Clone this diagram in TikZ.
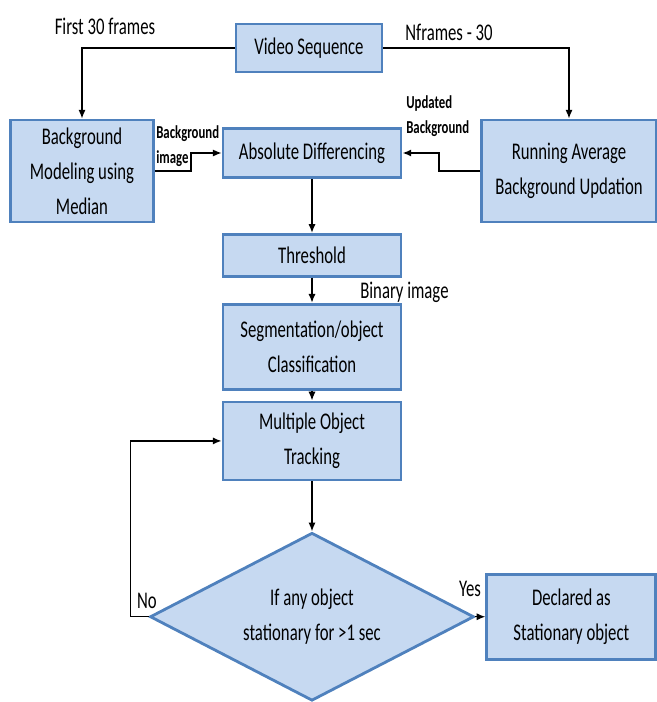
\documentclass[tikz,border=0pt]{standalone}
\usepackage{fontspec}
\setmainfont[FakeStretch=0.7]{Carlito}
\usetikzlibrary{arrows.meta,positioning,shapes.geometric}
\definecolor{boxfill}{RGB}{198,217,241}
\definecolor{boxline}{RGB}{79,129,189}

\begin{document}
\begin{tikzpicture}[
node distance = 6mm and 6mm,
box/.style = {draw=boxline, line width=2pt, fill=boxfill,
              align=center, inner sep=1pt,
              font=\fontsize{17}{25}\selectfont},
decide/.style = {box, diamond, aspect=2, inner sep=0pt,
              minimum width=8.1cm, minimum height=4.2cm},
lbl/.style = {font=\fontsize{17}{25}\selectfont, inner sep=0pt},
tag/.style = {font=\fontsize{13}{18}\selectfont\bfseries,
              align=left, inner sep=0pt, anchor=west},
arr/.style = {-{Latex[length=2.2mm,width=1.8mm]}, line width=1pt}
                ]
\useasboundingbox (0,0) rectangle (16.425,-17.55);

\node (vs) [box, minimum width=3.65cm, minimum height=1.2cm]
      at (7.725,-1.2) {Video Sequence};
\node (bg) [box, minimum width=3.575cm, minimum height=2.55cm]
      at (2.05,-4.275) {Background\\ Modeling using\\ Median};
\node (ad) [box, minimum width=4.45cm, minimum height=1.225cm]
      at (7.8,-3.825) {Absolute Differencing};
\node (ru) [box, minimum width=4.375cm, minimum height=2.55cm]
      at (14.225,-4.275) {Running Average\\ Background Updation};
\node (th) [box, minimum width=4.45cm, minimum height=1.05cm,
            below=1.35cm of ad] {Threshold};
\node (sg) [box, minimum width=4.45cm, minimum height=2.125cm,
            below=0.625cm of th] {Segmentation/object\\ Classification};
\node (mt) [box, minimum width=4.45cm, minimum height=1.95cm,
            below=0.25cm of sg] {Multiple Object\\ Tracking};
\node (ds) [decide, below=1.25cm of mt] {If any object\\ stationary for >1 sec};
\node (dc) [box, minimum width=4.225cm, minimum height=2.125cm,
            right=0.25cm of ds] {Declared as\\ Stationary object};

%% labels
\node (l1) [lbl] at (2.625,-0.65) {First 30 frames};
\node (l2) [lbl] at (11.225,-0.8) {Nframes - 30};
\node (l3) [tag] at (3.9,-3.65) {Background\\ image};
\node (l4) [tag] at (10.15,-2.9) {Updated\\ Background};
\node (l5) [lbl, anchor=west] at (9.0,-7.3) {Binary image};
\node (l6) [lbl] at (3.675,-15.03) {No};
\node (l7) [lbl] at (11.75,-14.72) {Yes};

\draw [arr] (vs.west) -| (bg.north);
\draw [arr] (vs.east) -| (ru.north);
\draw [arr] (bg.east) -- ++(0.9,0) |- (ad.west);
\draw [arr, line width=1.6pt] (ru.west) -- ++(-1.025,0) |- (ad.east);
\draw [arr] (ad) -- (th);
\draw [arr] (th) -- (sg);
\draw [arr] (sg) -- (mt);
\draw [arr] (mt) -- (ds);
\draw [arr] (ds.west) -- ++(-0.45,0) |- (mt.west);
\draw [arr] (ds) -- (dc);
\end{tikzpicture}
\end{document}
